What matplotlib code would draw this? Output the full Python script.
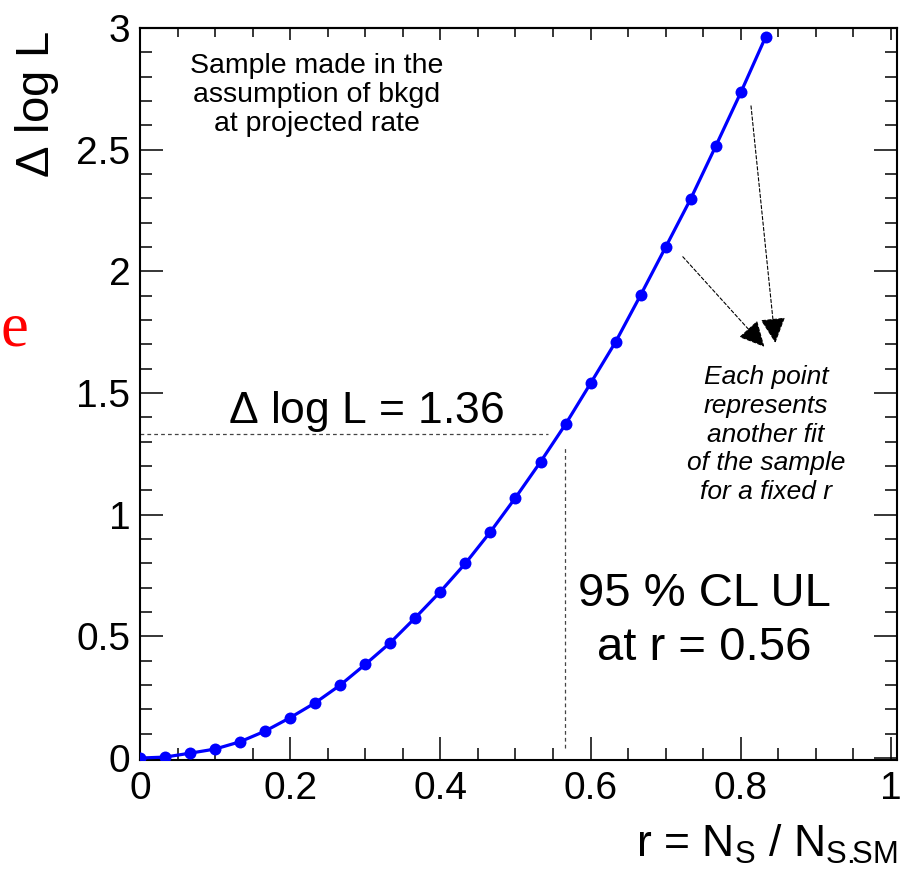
import matplotlib
matplotlib.use("Agg")
import matplotlib.pyplot as plt
from matplotlib.ticker import MultipleLocator

# Scan of Delta log L versus the signal ratio r (one fit per fixed r)
r_values = [0.0, 0.0333, 0.0667, 0.1, 0.1333, 0.1667, 0.2, 0.2333, 0.2667, 0.3,
            0.3333, 0.3667, 0.4, 0.4333, 0.4667, 0.5, 0.5333, 0.5667, 0.6, 0.6333,
            0.6667, 0.7, 0.7333, 0.7667, 0.8, 0.8333]
dlogl_values = [0.0, 0.004, 0.02, 0.037, 0.067, 0.111, 0.166, 0.227, 0.30, 0.385,
                0.474, 0.577, 0.684, 0.80, 0.93, 1.07, 1.217, 1.372, 1.54, 1.71,
                1.903, 2.10, 2.298, 2.515, 2.735, 2.965]

# Upper-limit guide lines
hline_level = 1.33
hline_end = 0.5435
vline_r = 0.5653
vline_span = (0.04, 1.28)

x_ticks = [0, 0.2, 0.4, 0.6, 0.8, 1]
x_tick_labels = ["0", "0.2", "0.4", "0.6", "0.8", "1"]
y_ticks = [0, 0.5, 1, 1.5, 2, 2.5, 3]
y_tick_labels = ["0", "0.5", "1", "1.5", "2", "2.5", "3"]

plt.rcParams["font.family"] = ["Liberation Sans", "DejaVu Sans"]
plt.rcParams["mathtext.fontset"] = "custom"
plt.rcParams["mathtext.rm"] = "Liberation Sans"
plt.rcParams["mathtext.it"] = "Liberation Sans:italic"

W, H = 901, 871
fig = plt.figure(figsize=(W / 100, H / 100), dpi=100)
ax = fig.add_axes([140 / W, 1 - 760 / H, (897 - 140) / W, (760 - 28) / H])


def px(x, y):
    return x / W, 1 - y / H


ax.plot(r_values, dlogl_values, color="#0000ff", lw=2.3, marker="o",
        markersize=8.6, markeredgewidth=0, zorder=3)

ax.set_xlim(0, 1.008)
ax.set_ylim(-0.008, 3.0)

ax.set_xticks(x_ticks)
ax.set_xticklabels(x_tick_labels)
ax.set_yticks(y_ticks)
ax.set_yticklabels(y_tick_labels)
ax.xaxis.set_minor_locator(MultipleLocator(0.05))
ax.yaxis.set_minor_locator(MultipleLocator(0.1))

for s in ax.spines.values():
    s.set_linewidth(1.5)

ax.tick_params(axis="both", which="major", direction="in", length=16.5,
               width=1.1, labelsize=28, right=True)
ax.tick_params(axis="both", which="minor", direction="in", length=8.5,
               width=1.1, right=True)
ax.tick_params(axis="x", which="major", pad=8)
ax.tick_params(axis="y", which="major", pad=7)

# Shorter ticks along the top edge
top = ax.secondary_xaxis("top")
top.set_xticks(x_ticks)
top.xaxis.set_minor_locator(MultipleLocator(0.05))
top.tick_params(which="major", direction="in", length=8.5, width=1.1, labeltop=False)
top.tick_params(which="minor", direction="in", length=6.5, width=1.1)
top.spines["top"].set_linewidth(1.5)

# Guide lines at the upper limit
ax.plot([0, hline_end], [hline_level, hline_level], color="#444444", lw=0.9,
        linestyle=(0, (3, 2.5)), zorder=2)
ax.plot([vline_r, vline_r], list(vline_span), color="#444444", lw=0.9,
        linestyle=(0, (3, 2.5)), zorder=2)

# Arrows pointing from the points to the annotation
arrow_style = dict(arrowstyle="-|>,head_length=1.0,head_width=0.5",
                   color="black", lw=0.8, linestyle=(0, (3, 2)),
                   mutation_scale=16, shrinkA=0, shrinkB=0)
ax.annotate("", xy=(0.846, 1.706), xytext=(0.8136, 2.68), arrowprops=arrow_style)
ax.annotate("", xy=(0.8314, 1.69), xytext=(0.7228, 2.06), arrowprops=arrow_style)

# Axis titles
fig.text(*px(37, 30), r"$\Delta$ log L", rotation=90, ha="center", va="top",
         fontsize=34)
fig.text(*px(898, 857), r"r = N$_\mathrm{S}$ / N$_\mathrm{S.\!\!SM}$", ha="right",
         va="baseline", fontsize=32)

# Annotations
for txt, yb in [("Sample made in the", 73), ("assumption of bkgd", 102),
                ("at projected rate", 131)]:
    fig.text(*px(317, yb), txt, ha="center", va="baseline", fontsize=20.5)

for txt, yb in [("Each point", 384), ("represents", 413), ("another fit", 441.5),
                ("of the sample", 470), ("for a fixed r", 499)]:
    fig.text(*px(766, yb), txt, ha="center", va="baseline", fontsize=19,
             style="italic")

fig.text(*px(366, 423), r"$\Delta$ log L = 1.36", ha="center", va="baseline",
         fontsize=32)
fig.text(*px(704, 606), "95 % CL UL", ha="center", va="baseline", fontsize=34)
fig.text(*px(704, 660), "at r = 0.56", ha="center", va="baseline", fontsize=34)

fig.text(*px(28, 345), "e", ha="right", va="baseline", fontsize=45,
         color="#ff0000", family="Liberation Serif")

fig.savefig("out.png", dpi=100)
